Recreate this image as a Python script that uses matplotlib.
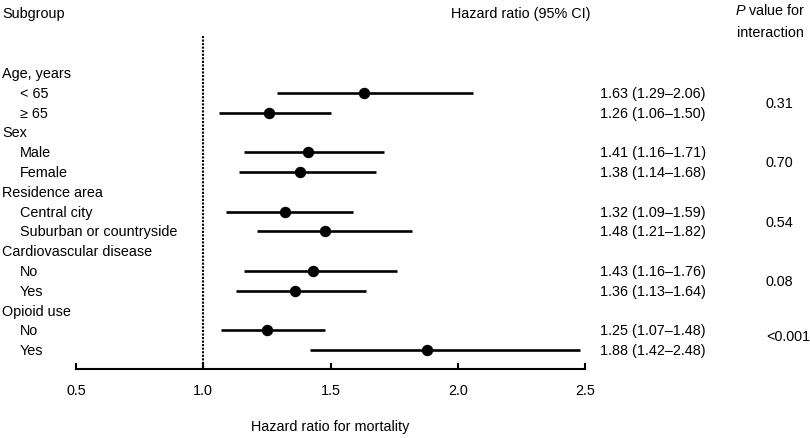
import numpy as np
import matplotlib.pyplot as plt

plt.rcParams['font.family'] = ['Liberation Sans', 'DejaVu Sans']
plt.rcParams['font.size'] = 10.4
plt.rcParams['mathtext.fontset'] = 'custom'
plt.rcParams['mathtext.rm'] = 'Liberation Sans'
plt.rcParams['mathtext.it'] = 'Liberation Sans:italic'

# data
groups = ['Age, years', 'Sex', 'Residence area', 'Cardiovascular disease', 'Opioid use']
subgroups = [['< 65', '≥ 65'],
             ['Male', 'Female'],
             ['Central city', 'Suburban or countryside'],
             ['No', 'Yes'],
             ['No', 'Yes']]
hr = [1.63, 1.26, 1.41, 1.38, 1.32, 1.48, 1.43, 1.36, 1.25, 1.88]
lo = [1.29, 1.06, 1.16, 1.14, 1.09, 1.21, 1.16, 1.13, 1.07, 1.42]
hi = [2.06, 1.50, 1.71, 1.68, 1.59, 1.82, 1.76, 1.64, 1.48, 2.48]
p_int = ['0.31', '0.70', '0.54', '0.08', '<0.001']
xticks = [0.5, 1.0, 1.5, 2.0, 2.5]

fig = plt.figure(figsize=(8.1, 4.39), dpi=100)
ax = fig.add_axes([76/810, 69/439, 509/810, 370/439])
ax.set_xlim(0.5, 2.5)
ax.set_ylim(14.95, -3.74)

# column positions (data x)
x_head = 0.209
x_sub = 0.28
x_hr = 2.559
x_p = 3.211
x_phead = 3.227

row = 0
k = 0
for g, subs, p in zip(groups, subgroups, p_int):
    ax.text(x_head, row, g, ha='left', va='center')
    rows = []
    for s in subs:
        row += 1
        rows.append(row)
        ax.text(x_sub, row, s, ha='left', va='center')
        ax.plot([lo[k], hi[k]], [row, row], color='black', lw=1.9, solid_capstyle='butt')
        ax.plot(hr[k], row, 'o', color='black', ms=7.2)
        ax.text(x_hr, row, '%.2f (%.2f\u2013%.2f)' % (hr[k], lo[k], hi[k]), ha='left', va='center')
        k += 1
    ax.text(x_p, np.mean(rows) - (0.2 if p.startswith('<') else 0), p, ha='left', va='center')
    row += 1

ax.vlines(1.0, -1.87, 14.95, colors='black', linestyles=(0, (1, 0.7)), lw=1.5)

ax.text(x_head, -3.03, 'Subgroup', ha='left', va='center')
ax.text(2.52, -3.03, 'Hazard ratio (95% CI)', ha='right', va='center')
ax.text(x_phead, -3.2, r'$\it{P}$ value for', ha='center', va='center')
ax.text(x_phead, -2.07, 'interaction', ha='center', va='center')

for s in ['top', 'right', 'left']:
    ax.spines[s].set_visible(False)
ax.spines['bottom'].set_linewidth(1.5)
ax.set_yticks([])
ax.set_xticks(xticks)
ax.set_xticklabels(['%.1f' % t for t in xticks])
ax.tick_params(axis='x', direction='in', length=4, width=1.5, pad=10)
ax.set_xlabel('Hazard ratio for mortality', labelpad=16)

fig.savefig('out.png', dpi=100)
